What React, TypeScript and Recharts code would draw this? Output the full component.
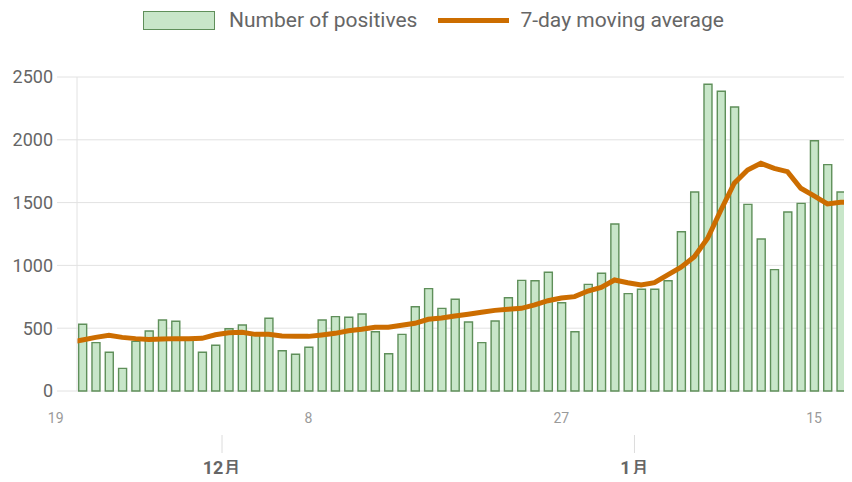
import { ComposedChart, Bar, Line, XAxis, YAxis, CartesianGrid, Legend } from "recharts";

// day numbers count from Nov 19 (= 0); the first entry is Nov 20
const firstDay = 1;

const positives = [
  null, 531, 385, 308, 180, 395, 478, 565, 555, 410, 308,
  364, 496, 525, 453, 579, 321, 292, 348, 565, 592, 587, 613, 472, 297, 451, 671,
  815, 658, 730, 549, 385, 557, 743, 881, 878, 945, 703, 472, 849, 937, 1330,
  775, 810, 810, 878, 1268, 1584, 2442, 2386, 2261, 1486, 1210, 966, 1425, 1494,
  1993, 1802, 1584, 1202,
];

const movingAverage = [
  385, 406, 427, 443, 427, 417, 411, 414, 417, 417, 419,
  448, 464, 467, 451, 451, 438, 435, 435, 446, 459, 480, 491, 507, 507, 523, 539,
  571, 581, 597, 611, 627, 642, 650, 658, 685, 719, 740, 751, 796, 825, 884,
  862, 844, 862, 924, 985, 1069, 1216, 1441, 1654, 1760, 1813, 1773, 1746, 1614,
  1553, 1489, 1502, 1502,
];

const dayTicks = [0, 19, 38, 57];
const dayLabels = ["19", "8", "27", "15"];
const monthTicks = [12.5, 43.5];
const monthLabels = ["12月", "1月"];
const yTicks = [0, 500, 1000, 1500, 2000, 2500];

const data = positives.map((v, i) => ({
  day: firstDay + i,
  positives: v,
  average: movingAverage[i],
}));

const FONT = "Roboto, 'Noto Sans', sans-serif";
const BAR_FILL = "#c8e6c9";
const BAR_STROKE = "#5f8f5a";
const LINE_COLOR = "#cc6d00";
const GRID = "#e2e2e2";
const X_DOMAIN = [1.6, 59.85];

function ChartLegend() {
  return (
    <div
      style={{
        height: 77,
        display: "flex",
        alignItems: "flex-start",
        paddingLeft: 143,
        paddingTop: 8,
        boxSizing: "border-box",
        fontFamily: FONT,
        fontSize: 21,
        color: "#666",
      }}
    >
      <div style={{ display: "flex", alignItems: "center", height: 24 }}>
        <span
          style={{
            width: 70,
            height: 17,
            background: BAR_FILL,
            border: `1.5px solid ${BAR_STROKE}`,
            marginRight: 14,
          }}
        />
        <span>Number of positives</span>
      </div>
      <div style={{ display: "flex", alignItems: "center", height: 24, marginLeft: 21 }}>
        <span style={{ width: 71, height: 5, background: LINE_COLOR, marginRight: 11 }} />
        <span>7-day moving average</span>
      </div>
    </div>
  );
}

export default function App() {
  return (
    <div style={{ margin: -8, width: 852, height: 482, overflow: "hidden", background: "#fff" }}>
      <ComposedChart
        width={852}
        height={482}
        data={data}
        margin={{ top: 0, right: 0, bottom: 0, left: 0 }}
        style={{ fontFamily: FONT }}
      >
        <Legend verticalAlign="top" content={() => <ChartLegend />} wrapperStyle={{ top: 0, left: 0, width: 852 }} />
        <CartesianGrid vertical={false} stroke={GRID} xAxisId="day" />
        <XAxis
          xAxisId="day"
          type="number"
          dataKey="day"
          domain={X_DOMAIN}
          allowDataOverflow
          ticks={dayTicks}
          interval={0}
          tickFormatter={(v: number) => dayLabels[dayTicks.indexOf(v)] ?? ""}
          axisLine={false}
          tickLine={false}
          tickSize={6}
          tickMargin={16}
          height={44}
          tick={{ fontSize: 14, fill: "#9a9a9a" }}
        />
        <XAxis
          xAxisId="month"
          type="number"
          dataKey="day"
          domain={X_DOMAIN}
          allowDataOverflow
          ticks={monthTicks}
          interval={0}
          tickFormatter={(v: number) => monthLabels[monthTicks.indexOf(v)] ?? ""}
          axisLine={false}
          tickLine={{ stroke: "#dcdcdc" }}
          tickSize={18}
          tickMargin={8}
          height={47}
          tick={{ fontSize: 18, fontWeight: "bold", fill: "#666" }}
        />
        <YAxis
          domain={[0, 2500]}
          ticks={yTicks}
          interval={0}
          width={77}
          axisLine={{ stroke: GRID }}
          tickLine={{ stroke: GRID }}
          tickSize={20}
          tickMargin={4}
          tick={{ fontSize: 18, fill: "#666" }}
        />
        <Bar
          xAxisId="day"
          dataKey="positives"
          name="Number of positives"
          fill={BAR_FILL}
          stroke={BAR_STROKE}
          strokeWidth={1.4}
          barSize={8}
          isAnimationActive={false}
        />
        <Line
          xAxisId="day"
          dataKey="average"
          name="7-day moving average"
          type="linear"
          stroke={LINE_COLOR}
          strokeWidth={5}
          dot={false}
          activeDot={false}
          isAnimationActive={false}
        />
      </ComposedChart>
    </div>
  );
}
